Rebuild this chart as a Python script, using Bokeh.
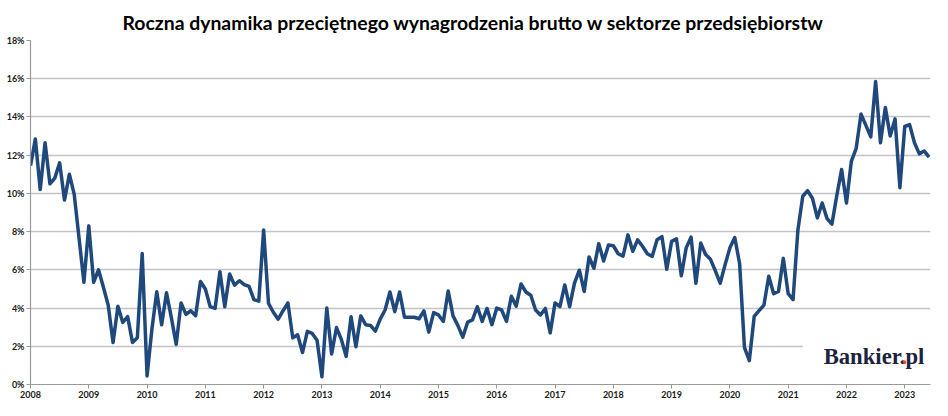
from bokeh.plotting import figure
from bokeh.models import Range1d, Label
from bokeh.embed import file_html
from bokeh.resources import INLINE

title_text = "Roczna dynamika przeciętnego wynagrodzenia brutto w sektorze przedsiębiorstw"
years = [str(y) for y in range(2008, 2024)]
y_ticks = [0, 2, 4, 6, 8, 10, 12, 14, 16, 18]
y_tick_labels = ["0%", "2%", "4%", "6%", "8%", "10%", "12%", "14%", "16%", "18%"]

# monthly year-on-year growth (%), Jan 2008 - Jun 2023
v2008 = [11.45, 12.85, 10.2, 12.65, 10.5, 10.8, 11.6, 9.65, 11.0, 9.95, 7.65, 5.35]
v2009 = [8.3, 5.35, 6.0, 5.1, 4.15, 2.2, 4.1, 3.25, 3.55, 2.2, 2.45, 6.85]
v2010 = [0.45, 2.9, 4.85, 3.13, 4.8, 3.5, 2.1, 4.27, 3.67, 3.86, 3.6, 5.39]
v2011 = [5.0, 4.07, 3.98, 5.9, 4.07, 5.78, 5.2, 5.43, 5.23, 5.13, 4.44, 4.36]
v2012 = [8.09, 4.24, 3.78, 3.42, 3.86, 4.27, 2.44, 2.6, 1.67, 2.78, 2.67, 2.32]
v2013 = [0.4, 4.0, 1.6, 2.98, 2.36, 1.47, 3.55, 1.98, 3.59, 3.13, 3.09, 2.79]
v2014 = [3.42, 3.9, 4.84, 3.81, 4.84, 3.52, 3.52, 3.52, 3.44, 3.85, 2.74, 3.76]
v2015 = [3.64, 3.3, 4.89, 3.59, 3.08, 2.48, 3.26, 3.38, 4.07, 3.3, 3.98, 3.13]
v2016 = [4.0, 3.9, 3.3, 4.62, 4.1, 5.26, 4.84, 4.67, 3.9, 3.64, 3.98, 2.7]
v2017 = [4.27, 4.07, 5.21, 4.07, 5.3, 5.98, 4.87, 6.67, 6.08, 7.37, 6.46, 7.3]
v2018 = [7.26, 6.84, 6.72, 7.83, 6.97, 7.57, 7.23, 6.84, 6.7, 7.57, 7.74, 6.03]
v2019 = [7.49, 7.62, 5.69, 7.15, 7.71, 5.3, 7.4, 6.8, 6.55, 5.95, 5.3, 6.26]
v2020 = [7.15, 7.69, 6.32, 1.93, 1.25, 3.56, 3.86, 4.15, 5.66, 4.75, 4.87, 6.6]
v2021 = [4.75, 4.44, 8.09, 9.85, 10.14, 9.74, 8.72, 9.5, 8.68, 8.39, 9.88, 11.25]
v2022 = [9.5, 11.68, 12.36, 14.15, 13.56, 12.96, 15.86, 12.65, 14.5, 13.0, 13.9, 10.3]
v2023 = [13.5, 13.6, 12.65, 12.07, 12.22, 11.9]

series = (v2008 + v2009 + v2010 + v2011 + v2012 + v2013 + v2014 + v2015 +
          v2016 + v2017 + v2018 + v2019 + v2020 + v2021 + v2022 + v2023)
months = list(range(len(series)))
year_ticks = [12 * i for i in range(len(years))]

p = figure(width=932, height=400, output_backend="svg", toolbar_location=None,
           x_range=Range1d(0, 185.3), y_range=Range1d(0, 18),
           min_border_left=30, min_border_right=2, min_border_top=40,
           min_border_bottom=16)

p.title.text = title_text
p.title.align = "left"
p.title.offset = 92
p.title.text_font = "Lato"
p.title.text_font_style = "bold"
p.title.text_font_size = "19.4px"
p.title.text_color = "#000000"
p.title.standoff = 14

p.outline_line_color = None
p.background_fill_color = "white"
p.border_fill_color = "white"

p.xgrid.grid_line_color = None
p.ygrid.ticker = y_ticks
p.ygrid.grid_line_color = "#c4c4c4"
p.ygrid.grid_line_width = 1.4

p.yaxis.ticker = y_ticks
p.yaxis.major_label_overrides = {t: l for t, l in zip(y_ticks, y_tick_labels)}
p.xaxis.ticker = year_ticks
p.xaxis.major_label_overrides = {t: l for t, l in zip(year_ticks, years)}

for ax in (p.xaxis[0], p.yaxis[0]):
    ax.axis_line_color = "#9a9a9a"
    ax.axis_line_width = 1.2
    ax.major_tick_line_color = "#9a9a9a"
    ax.major_tick_out = 4
    ax.major_tick_in = 0
    ax.minor_tick_line_color = None
    ax.major_label_text_font = "Lato"
    ax.major_label_text_font_style = "bold"
    ax.major_label_text_font_size = "9px"
    ax.major_label_text_color = "#1a1a1a"
    ax.major_label_standoff = 2

p.line(months, series, line_color="#1f497d", line_width=3.5, line_join="round")

# logo area
p.quad(left=[159.0], right=[185.3], bottom=[0.12], top=[3.3],
       fill_color="white", line_color=None)
p.add_layout(Label(x=163.3, y=1.47, text="Bankier.pl", text_font="Liberation Serif",
                   text_font_style="bold", text_font_size="22.7px",
                   text_color="#1c2340", text_baseline="alphabetic"))
p.add_layout(Label(x=163.3, y=1.47, x_offset=78.2, text=".", text_font="Liberation Serif",
                   text_font_style="bold", text_font_size="22.7px",
                   text_color="#e8501e", text_baseline="alphabetic"))

open("out.html", "w").write(file_html(p, INLINE))
